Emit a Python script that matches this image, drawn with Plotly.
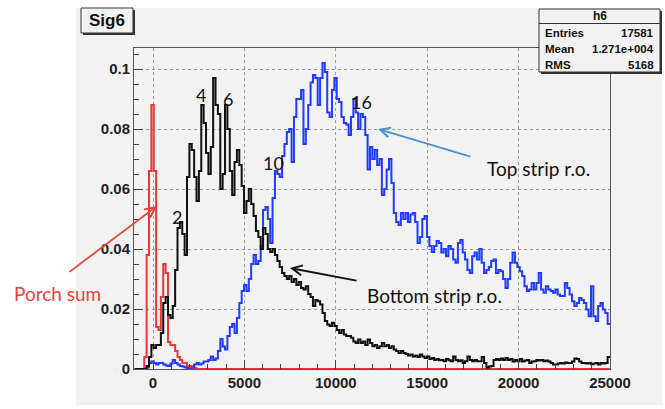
import plotly.graph_objects as go

# Histogram binning: 200 bins of width 130 from -1000 to 25000
bin_start = -1000
bin_width = 130
n_bins = 200

# Bottom strip read-out (black)
bottom_strip = [
    0, 0, 0, 0, 0, 0.001, 0.004, 0.008, 0.007, 0.008,
    0.008, 0.012, 0.022, 0.024, 0.018, 0.017, 0.021, 0.033, 0.047, 0.049,
    0.045, 0.038, 0.064, 0.075, 0.073, 0.064, 0.056, 0.066, 0.088, 0.082,
    0.072, 0.065, 0.074, 0.097, 0.088, 0.085, 0.060, 0.065, 0.088, 0.080,
    0.066, 0.058, 0.069, 0.073, 0.068, 0.061, 0.052, 0.056, 0.060, 0.055,
    0.051, 0.046, 0.044, 0.040, 0.047, 0.045, 0.040, 0.039, 0.040, 0.038,
    0.036, 0.034, 0.032, 0.031, 0.030, 0.031, 0.029, 0.030, 0.028, 0.029,
    0.027, 0.0265, 0.0276, 0.025, 0.024, 0.021, 0.023, 0.0226, 0.0215, 0.0187,
    0.016, 0.0148, 0.0143, 0.0154, 0.0143, 0.013, 0.012, 0.013, 0.0115, 0.011,
    0.011, 0.0104, 0.0092, 0.0087, 0.0098, 0.0087, 0.0092, 0.008, 0.0098, 0.0087,
    0.0076, 0.008, 0.007, 0.0076, 0.0087, 0.0076, 0.008, 0.007, 0.0076, 0.0065,
    0.006, 0.0053, 0.006, 0.0053, 0.005, 0.0045, 0.0048, 0.0042, 0.0045, 0.004,
    0.0048, 0.0042, 0.0037, 0.0042, 0.0033, 0.0037, 0.003, 0.0033, 0.0029, 0.003,
    0.0026, 0.0033, 0.0029, 0.0026, 0.0042, 0.003, 0.0026, 0.0029, 0.002, 0.0026,
    0.0042, 0.003, 0.0026, 0.003, 0.0026, 0.0026, 0.004, 0.002, 0.0005, 0.0008,
    0.001, 0.003, 0.0033, 0.003, 0.0035, 0.003, 0.0037, 0.003, 0.0033, 0.0025,
    0.003, 0.0026, 0.0033, 0.0025, 0.0028, 0.003, 0.002, 0.0025, 0.0026, 0.003,
    0.0028, 0.003, 0.0026, 0.0028, 0.0025, 0.002, 0.0015, 0.0015, 0.0018, 0.002,
    0.0018, 0.0022, 0.002, 0.002, 0.0025, 0.0035, 0.0033, 0.0025, 0.002, 0.002,
    0.0018, 0.002, 0.0016, 0.0018, 0.002, 0.0015, 0.002, 0.0018, 0.002, 0.004,
]

# Top strip read-out (blue)
top_strip = [
    0, 0, 0, 0, 0, 0.0005, 0.002, 0.0025, 0.002, 0.0015,
    0.002, 0.002, 0.0015, 0.0012, 0.001, 0.0018, 0.003, 0.002, 0.0015, 0.001,
    0.0008, 0.0005, 0.0003, 0.0, 0.0005, 0.0015, 0.002, 0.0015, 0.0018, 0.0025,
    0.0025, 0.003, 0.0042, 0.003, 0.0035, 0.006, 0.010, 0.0075, 0.0065, 0.011,
    0.014, 0.015, 0.012, 0.017, 0.022, 0.026, 0.028, 0.026, 0.030, 0.035,
    0.038, 0.035, 0.036, 0.041, 0.053, 0.054, 0.050, 0.042, 0.057, 0.066,
    0.065, 0.064, 0.071, 0.075, 0.079, 0.080, 0.069, 0.084, 0.090, 0.090,
    0.093, 0.075, 0.080, 0.088, 0.0955, 0.098, 0.097, 0.088, 0.097, 0.102,
    0.099, 0.0855, 0.084, 0.093, 0.097, 0.090, 0.089, 0.084, 0.082, 0.0815,
    0.078, 0.084, 0.090, 0.0855, 0.080, 0.085, 0.084, 0.078, 0.0665, 0.074,
    0.070, 0.073, 0.068, 0.070, 0.058, 0.060, 0.0665, 0.070, 0.062, 0.052,
    0.049, 0.048, 0.052, 0.050, 0.052, 0.049, 0.0515, 0.052, 0.049, 0.042,
    0.044, 0.050, 0.051, 0.044, 0.041, 0.039, 0.041, 0.0427, 0.042, 0.0388,
    0.040, 0.0376, 0.041, 0.040, 0.0365, 0.0354, 0.042, 0.043, 0.0388, 0.0365,
    0.033, 0.032, 0.0376, 0.0388, 0.0365, 0.040, 0.0354, 0.032, 0.033, 0.034,
    0.036, 0.0365, 0.032, 0.033, 0.0326, 0.030, 0.027, 0.030, 0.0354, 0.0388,
    0.0354, 0.034, 0.0326, 0.031, 0.0276, 0.026, 0.0265, 0.0287, 0.0265, 0.0287,
    0.032, 0.0265, 0.0254, 0.0276, 0.0265, 0.026, 0.0254, 0.0265, 0.0248, 0.0243,
    0.0243, 0.0287, 0.027, 0.0248, 0.0226, 0.021, 0.022, 0.0237, 0.023, 0.022,
    0.0198, 0.0176, 0.0276, 0.0176, 0.016, 0.021, 0.022, 0.0198, 0.0187, 0.015,
]

# Porch sum (red); the remaining bins up to 25000 are empty
porch_sum = [
    0, 0, 0, 0, 0.004, 0.038, 0.066, 0.088, 0.066, 0.014,
    0.013, 0.024, 0.035, 0.032, 0.009, 0.008, 0.008, 0.006, 0.004, 0.003,
    0.002, 0.002, 0.001, 0.001, 0.0005, 0.0003, 0,
]
porch_sum = porch_sum + [0] * (n_bins - len(porch_sum))

x_ticks = [0, 5000, 10000, 15000, 20000, 25000]
x_tick_labels = ["0", "5000", "10000", "15000", "20000", "25000"]
y_ticks = [0, 0.02, 0.04, 0.06, 0.08, 0.1]
y_tick_labels = ["0", "0.02", "0.04", "0.06", "0.08", "0.1"]

stats_title = "h6"
stats_rows = [("Entries", "17581"), ("Mean", "1.271e+004"), ("RMS", "5168")]

edges = [bin_start + bin_width * i for i in range(n_bins + 1)]


def step_trace(values, color, name):
    return go.Scatter(
        x=edges,
        y=list(values) + [values[-1]],
        mode="lines",
        line=dict(shape="hv", color=color, width=2),
        name=name,
        showlegend=False,
        hoverinfo="skip",
    )


W, H = 665, 409
L, R, T, B = 134, 610, 48, 369


def px(x):
    return (x - L) / (R - L)


def py(y):
    return (B - y) / (B - T)


fig = go.Figure()
fig.add_trace(step_trace(porch_sum, "#ee3636", "Porch sum"))
fig.add_trace(step_trace(top_strip, "#1f3cff", "Top strip r.o."))
fig.add_trace(step_trace(bottom_strip, "#111111", "Bottom strip r.o."))

bg = "#f2f2f2"
shapes = [
    # canvas
    dict(type="rect", xref="paper", yref="paper", layer="below",
         x0=px(76), x1=px(662), y0=py(405), y1=py(8),
         fillcolor=bg, line=dict(width=0)),
    # title box with shadow
    dict(type="rect", xref="paper", yref="paper",
         x0=px(83), x1=px(135), y0=py(35), y1=py(10),
         fillcolor="#333333", line=dict(width=0)),
    dict(type="rect", xref="paper", yref="paper",
         x0=px(81), x1=px(133), y0=py(33), y1=py(8),
         fillcolor=bg, line=dict(color="#333333", width=1)),
    # stats box with shadow
    dict(type="rect", xref="paper", yref="paper",
         x0=px(541), x1=px(662), y0=py(74), y1=py(11),
         fillcolor="#333333", line=dict(width=0)),
    dict(type="rect", xref="paper", yref="paper",
         x0=px(539), x1=px(660), y0=py(72), y1=py(9),
         fillcolor=bg, line=dict(color="#333333", width=1)),
    dict(type="line", xref="paper", yref="paper",
         x0=px(539), x1=px(660), y0=py(23.5), y1=py(23.5),
         line=dict(color="#333333", width=1)),
]

helv = "Liberation Sans, Arial, sans-serif"
calib = "Lato, Open Sans, sans-serif"


def label(text, x, y, font, xanchor="center"):
    return dict(text=text, x=px(x), y=py(y), xref="paper", yref="paper",
                xanchor=xanchor, yanchor="middle", showarrow=False, font=font)


bold_small = dict(family=helv, size=11.5, color="#111", weight="bold")
annotations = [
    label("Sig6", 107, 20.5, dict(family=helv, size=17, color="#111", weight="bold")),
    label(stats_title, 600, 16, dict(family=helv, size=12, color="#111", weight="bold")),
]
for k, (lab, val) in enumerate(stats_rows):
    yy = 33 + 16 * k
    annotations.append(label(lab, 543, yy, bold_small, xanchor="left"))
    annotations.append(label(val, 656, yy, bold_small, xanchor="right"))

# peak numbers
num_font = dict(family=calib, size=18, color="#111")
for txt, x, y in [("2", 177, 217), ("4", 201, 95), ("6", 228, 99), ("10", 273, 163), ("16", 361, 102)]:
    annotations.append(label(txt, x, y, num_font))

# curve labels
annotations += [
    label("Porch sum", 57, 293, dict(family=calib, size=19, color="#ee4040")),
    label("Top strip r.o.", 538, 168, dict(family=calib, size=19, color="#111")),
    label("Bottom strip r.o.", 434, 295, dict(family=calib, size=19, color="#111")),
]

# arrows (tip at x/y, tail offset in pixels)
for (tx, ty, sx, sy, col) in [
    (157, 206, 68, 273, "#e8453c"),
    (378, 129, 472, 157, "#4a90cc"),
    (290, 268, 358, 281, "#111111"),
]:
    annotations.append(dict(text="", x=px(tx), y=py(ty), xref="paper", yref="paper",
                            ax=sx - tx, ay=sy - ty, showarrow=True,
                            arrowhead=5, arrowsize=1.1, arrowwidth=1.8, arrowcolor=col))

fig.update_layout(
    width=W, height=H,
    margin=dict(l=L, r=W - R, t=T, b=H - B),
    paper_bgcolor="white",
    plot_bgcolor=bg,
    shapes=shapes,
    annotations=annotations,
    xaxis=dict(
        range=[-1040, 25000],
        tickvals=x_ticks, ticktext=x_tick_labels,
        ticks="inside", ticklen=9, tickcolor="#444", tickwidth=1,
        minor=dict(dtick=1000, tick0=0, ticks="inside", ticklen=5, tickcolor="#444",
                   showgrid=False),
        showgrid=True, gridcolor="#9a9a9a", griddash="dot", gridwidth=1,
        zeroline=False,
        showline=True, mirror=True, linecolor="#555", linewidth=1,
        tickfont=dict(family=helv, size=15, color="#222", weight="bold"),
        fixedrange=True,
    ),
    yaxis=dict(
        range=[0, 0.107],
        tickvals=y_ticks, ticktext=y_tick_labels,
        ticks="inside", ticklen=9, tickcolor="#444", tickwidth=1,
        minor=dict(dtick=0.005, tick0=0, ticks="inside", ticklen=5, tickcolor="#444",
                   showgrid=False),
        showgrid=True, gridcolor="#9a9a9a", griddash="dot", gridwidth=1,
        zeroline=False,
        showline=True, mirror=True, linecolor="#555", linewidth=1,
        tickfont=dict(family=helv, size=15, color="#222", weight="bold"),
        fixedrange=True,
    ),
)

fig.write_html("out.html")
